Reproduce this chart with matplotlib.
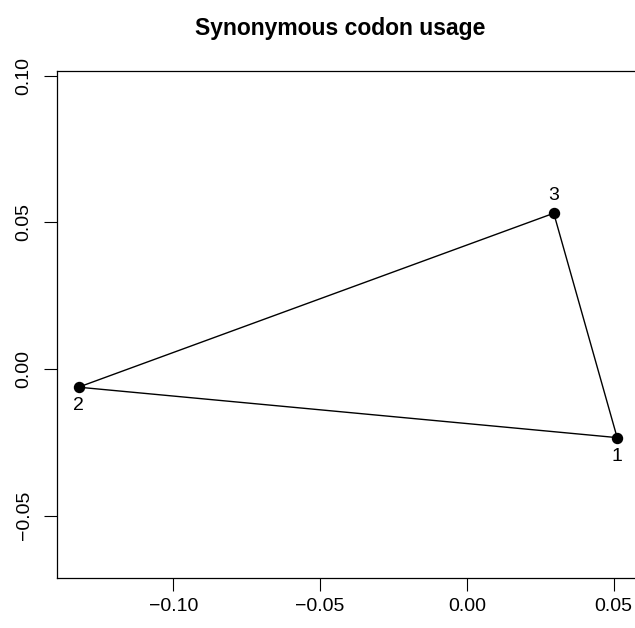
""" codon_usage_plot.py

    first two coordinates of the synonymous codon usage analysis,
    three samples joined as a closed triangle
"""

import matplotlib
matplotlib.use("Agg")
import matplotlib.pyplot as plt

plt.rcParams["font.family"] = ["Liberation Sans", "DejaVu Sans"]

labels = ["1", "2", "3"]
coord1 = [0.0512, -0.1323, 0.0296]
coord2 = [-0.0234, -0.0062, 0.0531]
label_side = ["below", "below", "above"]

xticks = [-0.10, -0.05, 0.00, 0.05]
yticks = [-0.05, 0.00, 0.05, 0.10]


def plot_codon_usage():
    fig = plt.figure(figsize=(6.35, 6.28), dpi=100)
    ax = fig.add_axes([56.5 / 635, 50 / 628, 581.5 / 635, 507 / 628])

    # closed outline through the three points
    order = [0, 1, 2, 0]
    ax.plot([coord1[i] for i in order], [coord2[i] for i in order],
            color="black", lw=1, zorder=2)
    ax.plot(coord1, coord2, "o", color="black", ms=7.2, zorder=3)
    for lab, x, y, side in zip(labels, coord1, coord2, label_side):
        dy = 13 if side == "above" else -13.5
        ax.annotate(lab, (x, y), xytext=(0, dy), textcoords="offset points",
                    ha="center", va="center", fontsize=14)

    ax.set_xlim(-0.1398, 0.0583)
    ax.set_ylim(-0.07126, 0.1016)
    ax.set_xticks(xticks)
    ax.set_xticklabels(["\u22120.10", "\u22120.05", "0.00", "0.05"])
    ax.set_yticks(yticks)
    ax.set_yticklabels(["\u22120.05", "0.00", "0.05", "0.10"],
                       rotation=90, va="center")
    ax.tick_params(axis="both", direction="out", length=9.2, width=0.8,
                   labelsize=14, color="black")
    ax.tick_params(axis="x", pad=5)
    ax.tick_params(axis="y", pad=8)
    for sp in ax.spines.values():
        sp.set_linewidth(0.9)
        sp.set_color("black")

    fig.text(340 / 635, 1 - 28 / 628, "Synonymous codon usage",
             ha="center", va="center", fontsize=16.5, fontweight="bold")

    fig.savefig("out.png", dpi=100)


if __name__ == "__main__":
    plot_codon_usage()
